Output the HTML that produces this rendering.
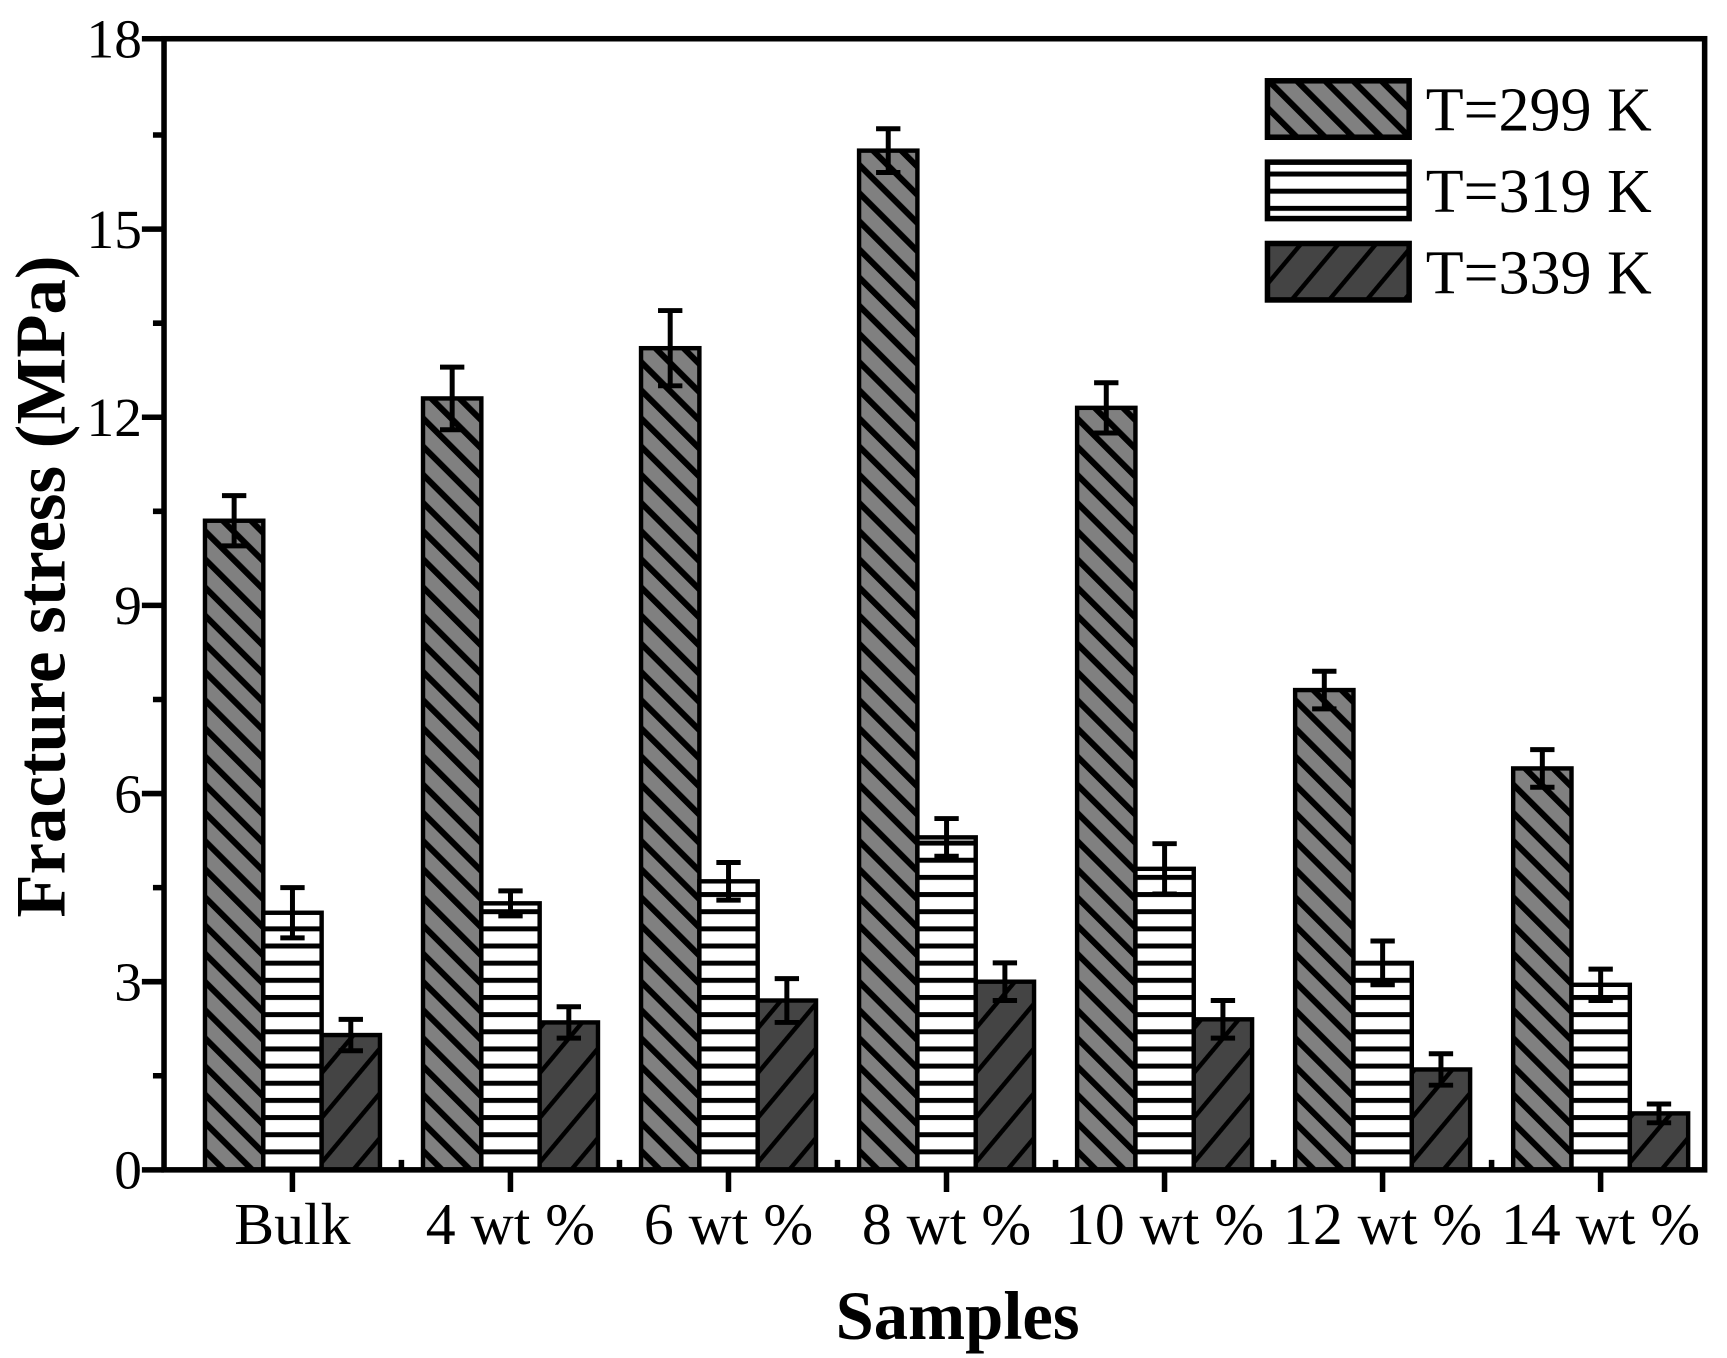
<!DOCTYPE html>
<html><head><meta charset="utf-8"><style>html,body{margin:0;padding:0;background:#fff}svg{display:block}</style></head>
<body>
<svg width="1727" height="1358" viewBox="0 0 1560 1227" xmlns="http://www.w3.org/2000/svg" font-family="'Liberation Serif', serif">
<defs>
<pattern id="p1" patternUnits="userSpaceOnUse" width="18" height="18" patternTransform="rotate(-45)">
<rect width="18" height="18" fill="#808080"/><rect x="0" y="0" width="5.5" height="18" fill="#000"/></pattern>
<pattern id="p2" patternUnits="userSpaceOnUse" width="20" height="15.5">
<rect width="20" height="15.5" fill="#fff"/><rect x="0" y="0" width="20" height="4.5" fill="#000"/></pattern>
<pattern id="p3" patternUnits="userSpaceOnUse" width="26" height="26" patternTransform="rotate(40)">
<rect width="26" height="26" fill="#444"/><rect x="0" y="0" width="4" height="26" fill="#000"/></pattern>
</defs>
<rect width="1560" height="1227" fill="#fff"/>

<g stroke="#000" stroke-width="4">
<g transform="translate(185,0)">
<rect x="0" y="470.5" width="52.7" height="586.5" fill="url(#p1)"/>
<rect x="52.7" y="824.7" width="52.7" height="232.3" fill="url(#p2)"/>
<rect x="105.4" y="935.2" width="52.7" height="121.8" fill="url(#p3)"/>
<path fill="none" stroke-width="4.5" d="M26.35 447.8V493.2M15.35 447.8H37.35M15.35 493.2H37.35 M79.05 802V847.4M68.05 802H90.05M68.05 847.4H90.05 M131.75 921V949.4M120.75 921H142.75M120.75 949.4H142.75"/>
</g>
<g transform="translate(382,0)">
<rect x="0" y="360" width="52.7" height="697" fill="url(#p1)"/>
<rect x="52.7" y="816.2" width="52.7" height="240.8" fill="url(#p2)"/>
<rect x="105.4" y="923.8" width="52.7" height="133.2" fill="url(#p3)"/>
<path fill="none" stroke-width="4.5" d="M26.35 331.7V388.3M15.35 331.7H37.35M15.35 388.3H37.35 M79.05 804.9V827.5M68.05 804.9H90.05M68.05 827.5H90.05 M131.75 909.6V938M120.75 909.6H142.75M120.75 938H142.75"/>
</g>
<g transform="translate(579,0)">
<rect x="0" y="314.6" width="52.7" height="742.4" fill="url(#p1)"/>
<rect x="52.7" y="796.3" width="52.7" height="260.7" fill="url(#p2)"/>
<rect x="105.4" y="904" width="52.7" height="153" fill="url(#p3)"/>
<path fill="none" stroke-width="4.5" d="M26.35 280.6V348.6M15.35 280.6H37.35M15.35 348.6H37.35 M79.05 779.3V813.3M68.05 779.3H90.05M68.05 813.3H90.05 M131.75 884.2V923.8M120.75 884.2H142.75M120.75 923.8H142.75"/>
</g>
<g transform="translate(776,0)">
<rect x="0" y="136.1" width="52.7" height="920.9" fill="url(#p1)"/>
<rect x="52.7" y="756.6" width="52.7" height="300.4" fill="url(#p2)"/>
<rect x="105.4" y="887" width="52.7" height="170" fill="url(#p3)"/>
<path fill="none" stroke-width="4.5" d="M26.35 116.3V155.9M15.35 116.3H37.35M15.35 155.9H37.35 M79.05 739.6V773.6M68.05 739.6H90.05M68.05 773.6H90.05 M131.75 870V904M120.75 870H142.75M120.75 904H142.75"/>
</g>
<g transform="translate(973,0)">
<rect x="0" y="368.5" width="52.7" height="688.5" fill="url(#p1)"/>
<rect x="52.7" y="785" width="52.7" height="272" fill="url(#p2)"/>
<rect x="105.4" y="921" width="52.7" height="136" fill="url(#p3)"/>
<path fill="none" stroke-width="4.5" d="M26.35 345.8V391.2M15.35 345.8H37.35M15.35 391.2H37.35 M79.05 762.3V807.7M68.05 762.3H90.05M68.05 807.7H90.05 M131.75 904V938M120.75 904H142.75M120.75 938H142.75"/>
</g>
<g transform="translate(1170,0)">
<rect x="0" y="623.5" width="52.7" height="433.5" fill="url(#p1)"/>
<rect x="52.7" y="870" width="52.7" height="187" fill="url(#p2)"/>
<rect x="105.4" y="966.3" width="52.7" height="90.7" fill="url(#p3)"/>
<path fill="none" stroke-width="4.5" d="M26.35 606.5V640.5M15.35 606.5H37.35M15.35 640.5H37.35 M79.05 850.2V889.8M68.05 850.2H90.05M68.05 889.8H90.05 M131.75 952.1V980.5M120.75 952.1H142.75M120.75 980.5H142.75"/>
</g>
<g transform="translate(1367,0)">
<rect x="0" y="694.3" width="52.7" height="362.7" fill="url(#p1)"/>
<rect x="52.7" y="889.8" width="52.7" height="167.2" fill="url(#p2)"/>
<rect x="105.4" y="1006" width="52.7" height="51" fill="url(#p3)"/>
<path fill="none" stroke-width="4.5" d="M26.35 677.3V711.3M15.35 677.3H37.35M15.35 711.3H37.35 M79.05 875.6V904M68.05 875.6H90.05M68.05 904H90.05 M131.75 997.5V1014.5M120.75 997.5H142.75M120.75 1014.5H142.75"/>
</g>
</g>

<rect x="148" y="35" width="1392" height="1022" fill="none" stroke="#000" stroke-width="5"/>
<path stroke="#000" stroke-width="5" fill="none" d="M128 1057H148M138 972H148M128 887H148M138 802H148M128 717H148M138 632H148M128 547H148M138 462H148M128 377H148M138 292H148M128 207H148M138 122H148M128 35H148
M264 1057V1077M461 1057V1077M658 1057V1077M855 1057V1077M1052 1057V1077M1249 1057V1077M1446 1057V1077
M362.5 1057V1048M559.5 1057V1048M756.5 1057V1048M953.5 1057V1048M1150.5 1057V1048M1347.5 1057V1048"/>
<g font-size="50" text-anchor="end">
<text x="128" y="1074">0</text><text x="128" y="904">3</text><text x="128" y="734">6</text><text x="128" y="564">9</text><text x="128" y="394">12</text><text x="128" y="224">15</text><text x="128" y="52">18</text>
</g>
<g font-size="54" text-anchor="middle">
<text x="264" y="1124">Bulk</text><text x="461" y="1124">4 wt %</text><text x="658" y="1124">6 wt %</text><text x="855" y="1124">8 wt %</text><text x="1052" y="1124">10 wt %</text><text x="1249" y="1124">12 wt %</text><text x="1446" y="1124">14 wt %</text>
</g>
<text x="865" y="1210" font-size="62" font-weight="bold" text-anchor="middle">Samples</text>
<text transform="translate(58,530) rotate(-90)" font-size="64" font-weight="bold" text-anchor="middle">Fracture stress (MPa)</text>
<g stroke="#000" stroke-width="5">
<rect x="1145" y="73" width="128" height="51" fill="url(#p1)"/>
<rect x="1145" y="146.5" width="128" height="51" fill="url(#p2)"/>
<rect x="1145" y="220" width="128" height="51" fill="url(#p3)"/>
</g>
<g font-size="56">
<text x="1288" y="118">T=299 K</text><text x="1288" y="191.5">T=319 K</text><text x="1288" y="265">T=339 K</text>
</g>
</svg>
</body></html>
